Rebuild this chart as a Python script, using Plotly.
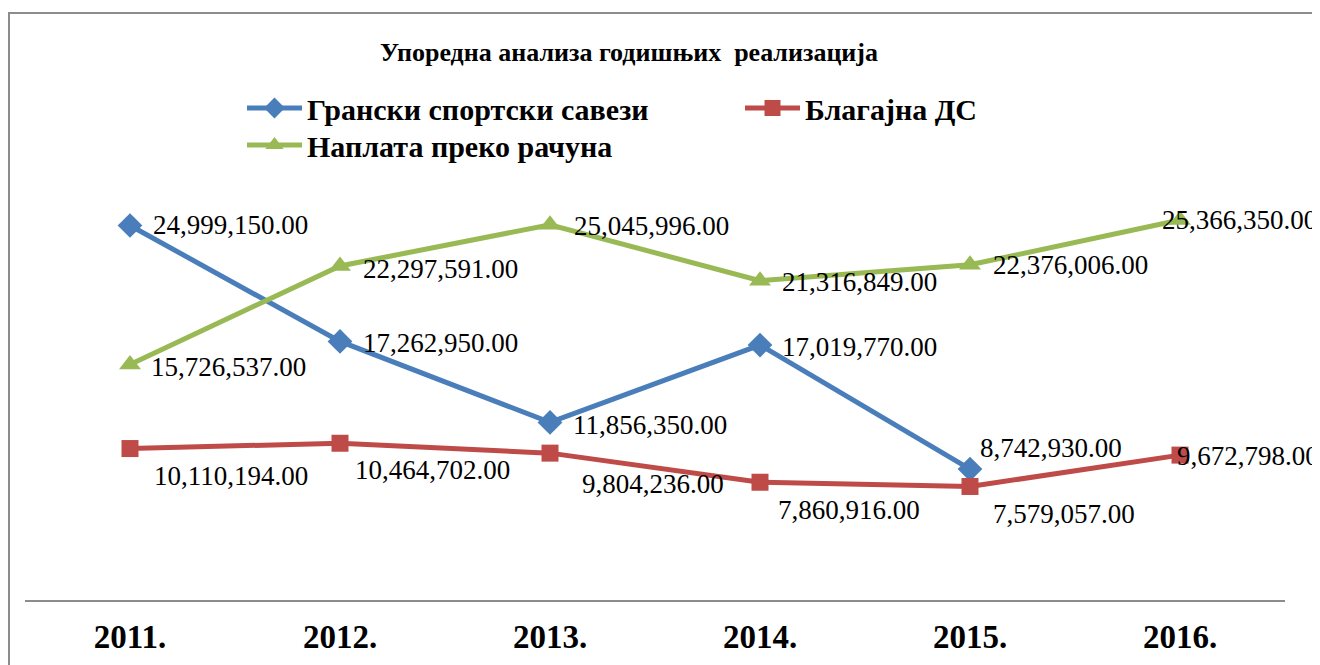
import plotly.graph_objects as go

years = ["2011.", "2012.", "2013.", "2014.", "2015.", "2016."]
granski = [24999150.00, 17262950.00, 11856350.00, 17019770.00, 8742930.00, None]
blagajna = [10110194.00, 10464702.00, 9804236.00, 7860916.00, 7579057.00, 9672798.00]
naplata = [15726537.00, 22297591.00, 25045996.00, 21316849.00, 22376006.00, 25366350.00]

names = ["Грански спортски савези", "Благајна ДС", "Наплата преко рачуна"]
title_text = "Упоредна анализа годишњих  реализација"

BLUE = "#4A7EBB"
RED = "#BE4B48"
GREEN = "#98B954"
FONT = "Liberation Serif, Times New Roman, serif"

# page has an 8px body margin: figure is placed at (8, 8)
OFF = 8
W, H = 1320 - OFF, 665 - OFF
L, R, B = 25 - OFF, 1320 - 1285, 665 - 600
PH = 450
T = H - B - PH
PW = W - L - R

fig = go.Figure()
fig.add_trace(go.Scatter(x=years, y=granski, name=names[0], mode="lines+markers",
                         line=dict(color=BLUE, width=5),
                         marker=dict(symbol="diamond", size=19, color=BLUE),
                         legend="legend", cliponaxis=False))
fig.add_trace(go.Scatter(x=years, y=blagajna, name=names[1], mode="lines+markers",
                         line=dict(color=RED, width=5),
                         marker=dict(symbol="square", size=17, color=RED),
                         legend="legend2", cliponaxis=False))
fig.add_trace(go.Scatter(x=years, y=naplata, name=names[2], mode="lines+markers",
                         line=dict(color=GREEN, width=5),
                         marker=dict(symbol="triangle-up", size=19, color=GREEN),
                         legend="legend3", cliponaxis=False))

# label offsets in pixels (dx from point to label left edge, dy: positive = up)
offsets = {
    0: [(21, 1), (21, -2), (21, -3), (20, -2), (8, 21), None],
    1: [(22, -27), (13, -27), (30, -31), (16, -28), (21, -28), (-5, -1)],
    2: [(19, -3), (21, -3), (22, -1), (20, -1), (21, 0), (-20, 0)],
}
series = [granski, blagajna, naplata]
annots = []
for si, vals in enumerate(series):
    for i, v in enumerate(vals):
        if v is None or offsets[si][i] is None:
            continue
        dx, dy = offsets[si][i]
        annots.append(dict(x=i, y=v, xref="x", yref="y", text="{:,.2f}".format(v),
                           showarrow=False, xanchor="left", yanchor="middle",
                           xshift=dx, yshift=dy,
                           font=dict(family=FONT, size=27, color="black")))


def px_x(p):
    return (p - OFF - L) / PW


def px_y(p):
    return (H - B - (p - OFF)) / PH


frame = dict(color="#8C8C8C", width=2)
shapes = [
    dict(type="line", xref="paper", yref="paper", x0=px_x(9), x1=px_x(9),
         y0=px_y(13), y1=px_y(700), line=frame),
    dict(type="line", xref="paper", yref="paper", x0=px_x(8), x1=px_x(1321),
         y0=px_y(13), y1=px_y(13), line=frame),
]

leg_font = dict(family=FONT, size=30, color="black", weight="bold")
fig.update_layout(
    width=W, height=H,
    margin=dict(l=L, r=R, t=T, b=B),
    paper_bgcolor="white", plot_bgcolor="white",
    font=dict(family=FONT, color="black"),
    title=dict(text=f"<b>{title_text}</b>", xref="container", yref="container",
               x=(629 - OFF) / W, y=1 - (52 - OFF) / H, xanchor="center", yanchor="middle",
               font=dict(family=FONT, size=26, color="black")),
    legend=dict(orientation="h", x=px_x(242), y=px_y(82), xanchor="left", yanchor="top",
                font=leg_font, itemwidth=55, bgcolor="rgba(0,0,0,0)"),
    legend2=dict(orientation="h", x=px_x(740), y=px_y(82), xanchor="left", yanchor="top",
                 font=leg_font, itemwidth=55, bgcolor="rgba(0,0,0,0)"),
    legend3=dict(orientation="h", x=px_x(242), y=px_y(119), xanchor="left", yanchor="top",
                 font=leg_font, itemwidth=55, bgcolor="rgba(0,0,0,0)"),
    xaxis=dict(type="category", range=[-0.5, 5.5], showgrid=False, zeroline=False,
               showline=True, linecolor="#8C8C8C", linewidth=2, ticks="",
               ticklabelstandoff=6, automargin=False,
               tickfont=dict(family=FONT, size=33, color="black", weight="bold"),
               fixedrange=True),
    yaxis=dict(range=[0, 30.04e6], visible=False, showgrid=False, zeroline=False,
               fixedrange=True),
    showlegend=True,
    annotations=annots,
    shapes=shapes,
)

# hide page scrollbars caused by the default 8px body margin
hide_scroll = ("document.documentElement.style.overflow='hidden';"
               "document.body.style.overflow='hidden';")
fig.write_html("out.html", config={"displayModeBar": False}, post_script=hide_scroll)
